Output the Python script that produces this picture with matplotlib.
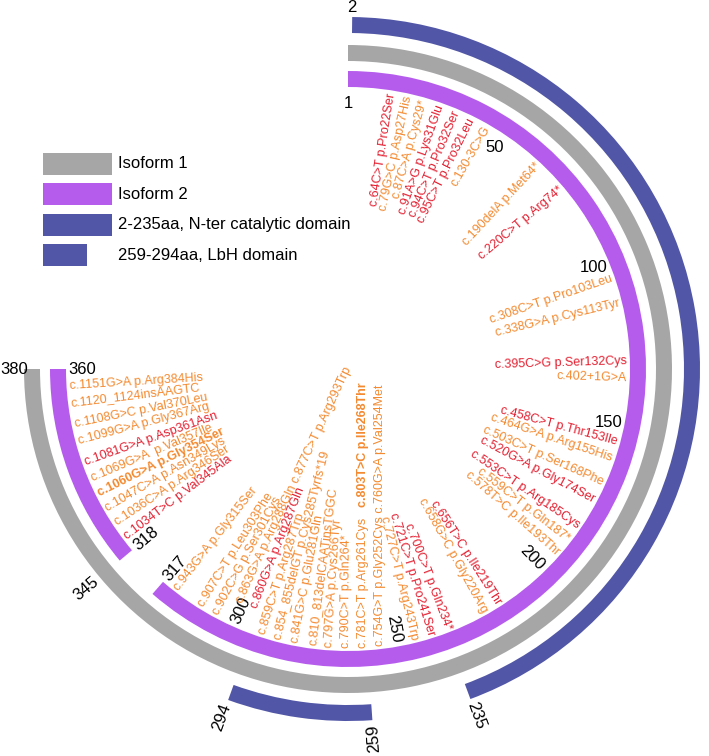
import matplotlib.pyplot as plt
import numpy as np
from matplotlib.font_manager import FontProperties
from matplotlib.patches import Rectangle

plt.rcParams['font.family'] = ['Liberation Sans', 'DejaVu Sans']

# protein extents (aa)
iso1_span = (1, 380)
iso2_segments = [(1, 317), (318, 360)]
domains = [(2, 235), (259, 294)]

# how the two isoforms line up around the circle (aa -> degrees, clockwise from top)
iso1_knots = [1, 300, 317, 345, 380]
iso2_knots = [1, 300, 317, 318, 360]
knot_deg = [0, 204, 221, 230, 270]

iso2_ticks = [1, 50, 100, 150, 200, 250, 300, 317, 318, 360]
iso1_ticks = [345, 380]
domain_ticks = [2, 235, 259, 294]

legend_names = ['Isoform 1', 'Isoform 2', '2-235aa, N-ter catalytic domain', '259-294aa, LbH domain']

# variants: label text, residue, red (1) / orange (0)
mut_text = [
    'c.64C>T p.Pro22Ser', 'c.79G>C p.Asp27His', 'c.87C>A p.Cys29*', 'c.91A>G p.Lys31Glu',
    'c.94C>T p.Pro32Ser', 'c.95C>T p.Pro32Leu', 'c.130-3C>G', 'c.190delA p.Met64*',
    'c.220C>T p.Arg74*', 'c.308C>T p.Pro103Leu', 'c.338G>A p.Cys113Tyr', 'c.395C>G p.Ser132Cys',
    'c.402+1G>A', 'c.458C>T p.Thr153Ile', 'c.464G>A p.Arg155His', 'c.503C>T p.Ser168Phe',
    'c.520G>A p.Gly174Ser', 'c.553C>T p.Arg185Cys', 'c.559C>T p.Gln187*', 'c.578T>C p.Ile193Thr',
    'c.656T>C p.Ile219Thr', 'c.658G>C p.Gly220Arg', 'c.700C>T p.Gln234*', 'c.721C>T p.Pro241Ser',
    'c.727C>T p.Arg243Trp', 'c.754G>T p.Gly252Cys c.760G>A p.Val254Met', 'c.781C>T p.Arg261Cys',
    'c.803T>C p.Ile268Thr', 'c.790C>T p.Gln264*', 'c.797G>A p.Cys266Tyr', 'c.810_813delCAATinsTGGC',
    'c.841G>C p.Glu281Gln', 'c.854_855delGT p.Cys285Tyrfs*19', 'c.859C>T p.Arg287Trp',
    'c.860G>A p.Arg287Gln', 'c.863G>A p.Arg288Gln c.877C>T p.Arg293Trp', 'c.902C>G p.Ser301Cys',
    'c.907C>T p.Leu303Phe', 'c.943G>A p.Gly315Ser', 'c.1034T>C p.Val345Ala', 'c.1036C>A p.Arg346Ser',
    'c.1047C>A p.Asn349Lys', 'c.1060G>A p.Gly354Ser', 'c.1069G>A  p.Val357Ile', 'c.1081G>A p.Asp361Asn',
    'c.1099G>A p.Gly367Arg', 'c.1108G>C p.Val370Leu', 'c.1120_1124insAAGTC', 'c.1151G>A p.Arg384His',
]
mut_aa = [22, 27, 29, 31, 32, 32, 44, 64, 74, 103, 113, 132, 134, 153, 155, 168, 174, 185, 187, 193,
          219, 220, 234, 241, 243, 252, 261, 268, 264, 266, 270, 281, 285, 287, 287, 288, 301, 303, 315,
          345, 346, 349, 354, 357, 361, 367, 370, 374, 384]
mut_red = [1, 0, 0, 1, 1, 1, 0, 0, 1, 0, 0, 1, 0, 1, 0, 0, 1, 1, 0, 0,
           1, 0, 1, 1, 0, 0, 0, 0, 0, 0, 0, 0, 0, 0, 1, 0, 0, 0, 0,
           1, 0, 0, 0, 0, 1, 0, 0, 0, 0]
mut_bold = {'c.803T>C p.Ile268Thr', 'c.1060G>A p.Gly354Ser'}
# second label sharing a spoke with another one
stacked = {'c.803T>C p.Ile268Thr': 'c.781C>T p.Arg261Cys'}

GRAY = '#a6a6a6'
PURPLE = '#b65ced'
BLUE = '#5156a6'
RED = '#e41f30'
ORANGE = '#f48a30'

W, H = 709, 756
CX, CY = 348, 369          # circle centre in pixels (from top-left)
RAX = 400                  # axes radius in pixels -> 1 data unit = 1 px
PURPLE_R = (282, 298)
GRAY_R = (308, 324)
BLUE_R = (336, 352)
LABEL_R = 279
FLIP = 170                 # labels past this angle read towards the centre
FS_MUT = 9
GAP = 3.5


def iso1_deg(aa):
    return np.interp(aa, iso1_knots, knot_deg)


def iso2_deg(aa):
    return np.interp(aa, iso2_knots, knot_deg)


def arc(ax, a0, a1, radii, color):
    t0, t1 = np.deg2rad(a0), np.deg2rad(a1)
    ax.bar(t0, radii[1] - radii[0], width=t1 - t0, bottom=radii[0],
           align='edge', color=color, linewidth=0)


def spread(anchor, lo, hi, gap, fixed):
    a = np.asarray(anchor, float).copy()
    order = np.argsort(a, kind='stable')
    for _ in range(4000):
        s = a[order]
        f = fixed[order]
        bad = np.where(np.diff(s) < gap - 1e-4)[0]
        if len(bad) == 0:
            break
        for i in bad:
            deficit = gap - (s[i + 1] - s[i])
            if f[i] and f[i + 1]:
                continue
            if f[i]:
                s[i + 1] += deficit
            elif f[i + 1]:
                s[i] -= deficit
            else:
                s[i] -= deficit / 2
                s[i + 1] += deficit / 2
        s = np.where(f, s, np.clip(s, lo[order], hi[order]))
        a[order] = s
    return a


def text_rot(deg):
    if deg < FLIP:
        return 90 - deg, 'out'
    return min(270 - deg, 90), 'in'


def place_label(ax, deg, r, s, shift=0.0, **kw):
    # inner label on a spoke; `shift` moves it further towards the centre
    rot, mode = text_rot(deg)
    ux, uy = np.cos(np.deg2rad(rot)), np.sin(np.deg2rad(rot))
    if mode == 'out':
        ux, uy = -ux, -uy
        ha = 'right'
    else:
        ha = 'left'
    x = r * np.sin(np.deg2rad(deg)) + shift * ux
    y = r * np.cos(np.deg2rad(deg)) + shift * uy
    th, rr = np.arctan2(x, y), np.hypot(x, y)
    return ax.text(th, rr, s, rotation=rot, rotation_mode='anchor', ha=ha, va='center', **kw)


fig = plt.figure(figsize=(W / 100, H / 100), dpi=100)
ax = fig.add_axes([(CX - RAX) / W, (H - CY - RAX) / H, 2 * RAX / W, 2 * RAX / H], projection='polar')
ax.set_theta_zero_location('N')
ax.set_theta_direction(-1)
ax.set_ylim(0, RAX)
ax.axis('off')

# rings
arc(ax, iso1_deg(iso1_span[0]), iso1_deg(iso1_span[1]), GRAY_R, GRAY)
for a, b in iso2_segments:
    arc(ax, iso2_deg(a), iso2_deg(b), PURPLE_R, PURPLE)
for a, b in domains:
    arc(ax, iso1_deg(a), iso1_deg(b), BLUE_R, BLUE)


def is_flat(deg):
    return deg < 120 or deg > 250


# position ticks
def tick(deg, s, inner, edge):
    th = np.deg2rad(deg)
    if is_flat(deg):
        r = edge - 16 if inner else edge + 10
        ax.text(th, r, s, ha='center', va='center', fontsize=12)
        return
    r = edge - 4 if inner else edge + 4
    if deg < FLIP:
        rot, ha = 90 - deg, ('right' if inner else 'left')
    else:
        rot, ha = 270 - deg, ('left' if inner else 'right')
    ax.text(th, r, s, rotation=rot, rotation_mode='anchor', ha=ha, va='center', fontsize=12)


tick_deg = [iso2_deg(p) for p in iso2_ticks]
for p, d in zip(iso2_ticks, tick_deg):
    tick(d, str(p), True, PURPLE_R[0])
for p in iso1_ticks:
    tick(iso1_deg(p), str(p), False, GRAY_R[1])
for p in domain_ticks:
    tick(iso1_deg(p), str(p), False, BLUE_R[1])

# variant labels: spread along the inner side of the purple ring;
# flat tick numbers and the tick where reading direction flips are fixed obstacles
idx = [i for i, t in enumerate(mut_text) if t not in stacked]
seg1_end = iso2_deg(iso2_segments[0][1])
seg2 = (iso2_deg(iso2_segments[1][0]), iso2_deg(iso2_segments[1][1]))
in_seg1 = [mut_aa[i] <= iso2_segments[0][1] for i in idx]
obstacles = [d for d in tick_deg if (is_flat(d) and 20 < d < 250) or abs(d - FLIP) < 5]
anchor = np.r_[[iso1_deg(mut_aa[i]) for i in idx], obstacles]
lo = np.r_[[3.0 if s1 else seg2[0] + 3 for s1 in in_seg1], obstacles]
hi = np.r_[[seg1_end - 3 if s1 else seg2[1] - 3.5 for s1 in in_seg1], obstacles]
fixed = np.r_[np.zeros(len(idx), bool), np.ones(len(obstacles), bool)]
pos = spread(anchor, lo, hi, GAP, fixed)[:len(idx)]

radial_ticks = [d for d in tick_deg if not is_flat(d)]

renderer = fig.canvas.get_renderer()
fp = FontProperties(family=['Liberation Sans', 'DejaVu Sans'], size=FS_MUT)
placed = {}
for k, i in enumerate(idx):
    t = mut_text[i]
    near_tick = any(abs(pos[k] - d) < 2.8 for d in radial_ticks)
    shift = 22 if near_tick else 0
    place_label(ax, pos[k], LABEL_R, t, shift=shift, fontsize=FS_MUT,
                color=RED if mut_red[i] else ORANGE,
                fontweight='bold' if t in mut_bold else 'normal')
    placed[t] = (pos[k], shift)

for t, base in stacked.items():
    i = mut_text.index(t)
    w, _, _ = renderer.get_text_width_height_descent(base, fp, ismath=False)
    deg, shift = placed[base]
    place_label(ax, deg, LABEL_R, t, shift=shift + w + 10, fontsize=FS_MUT,
                color=RED if mut_red[i] else ORANGE,
                fontweight='bold' if t in mut_bold else 'normal')

# legend
legend_colors = [GRAY, PURPLE, BLUE, BLUE]
legend_widths = [69, 69, 69, 44]
for k, (name, c, wdt) in enumerate(zip(legend_names, legend_colors, legend_widths)):
    y0 = 153 + k * 30.5
    fig.add_artist(Rectangle((43 / W, 1 - (y0 + 22) / H), wdt / W, 22 / H,
                             transform=fig.transFigure, color=c, linewidth=0))
    fig.text(118 / W, 1 - (y0 + 11) / H, name, ha='left', va='center', fontsize=12)

fig.savefig('out.png', dpi=100, facecolor='white')
